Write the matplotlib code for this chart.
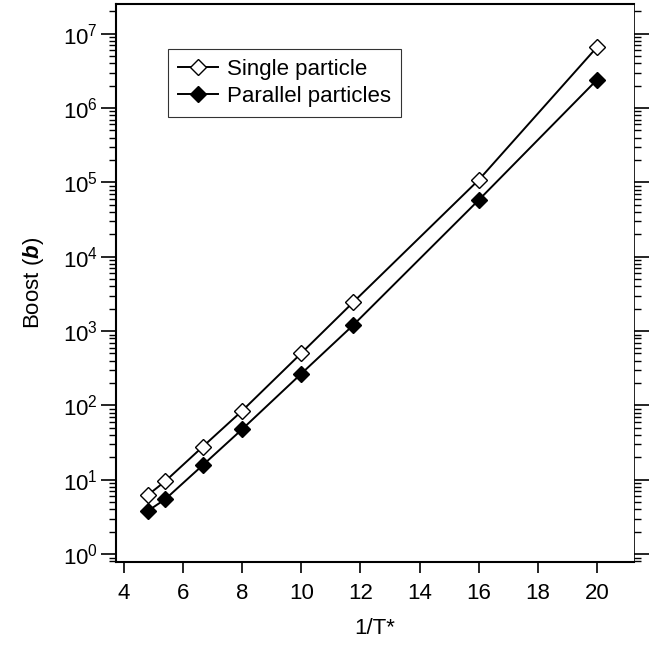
import matplotlib.pyplot as plt
from matplotlib.ticker import LogLocator, FixedLocator, NullFormatter

plt.rcParams['font.family'] = ['Liberation Sans', 'DejaVu Sans']
plt.rcParams['mathtext.fontset'] = 'custom'
plt.rcParams['mathtext.rm'] = 'Liberation Sans'
plt.rcParams['mathtext.it'] = 'Liberation Sans:italic'
plt.rcParams['mathtext.bf'] = 'Liberation Sans:bold'
plt.rcParams['mathtext.bfit'] = 'Liberation Sans:bold:italic'

inv_t = [4.8, 5.4, 6.67, 8.0, 10.0, 11.76, 16.0, 20.0]
single = [6.2, 9.6, 28, 85, 505, 2460, 1.08e5, 6.6e6]
parallel = [3.8, 5.5, 15.8, 48, 268, 1210, 5.8e4, 2.4e6]
x_ticks = [4, 6, 8, 10, 12, 14, 16, 18, 20]
y_decades = list(range(0, 8))

fig = plt.figure(figsize=(6.55, 6.47), dpi=100)
ax = fig.add_axes([0.177, 0.131, 0.791, 0.863])

ax.plot(inv_t, single, color='black', lw=1.4, marker='D', ms=8,
        mfc='white', mec='black', mew=1.0, label='Single particle')
ax.plot(inv_t, parallel, color='black', lw=1.4, marker='D', ms=8,
        mfc='black', mec='black', label='Parallel particles')

ax.set_yscale('log')
ax.set_xlim(3.73, 21.25)
ax.set_ylim(10 ** -0.108, 10 ** 7.40)

ax.xaxis.set_major_locator(FixedLocator(x_ticks))
ax.set_xticklabels([str(v) for v in x_ticks])
ax.yaxis.set_major_locator(FixedLocator([10.0 ** k for k in y_decades]))
ax.set_yticklabels(['$10^{%d}$' % k for k in y_decades])
ax.yaxis.set_minor_locator(LogLocator(base=10, subs=range(2, 10), numticks=20))
ax.yaxis.set_minor_formatter(NullFormatter())

ax.tick_params(axis='both', which='major', direction='out', labelsize=16,
               width=1.2, length=8)
ax.tick_params(axis='y', which='major', length=11, right=True, pad=2)
ax.tick_params(axis='y', which='minor', direction='out', length=5,
               width=1.0, right=True)
ax.tick_params(axis='x', top=False, pad=7)

for side in ['left', 'bottom', 'top']:
    ax.spines[side].set_linewidth(1.5)
ax.spines['right'].set_linewidth(0.6)

ax.set_xlabel('1/T*', fontsize=16, labelpad=10)
ax.set_ylabel('Boost ($\\mathbfit{b}$)', fontsize=16, labelpad=12)

leg = ax.legend(loc='upper left', bbox_to_anchor=(0.10, 0.92), fontsize=16,
                frameon=True, fancybox=False, edgecolor='black',
                borderaxespad=0, handlelength=1.8, borderpad=0.45,
                labelspacing=0.3, handletextpad=0.4)
leg.get_frame().set_linewidth(0.8)

fig.savefig('out.png', dpi=100)
